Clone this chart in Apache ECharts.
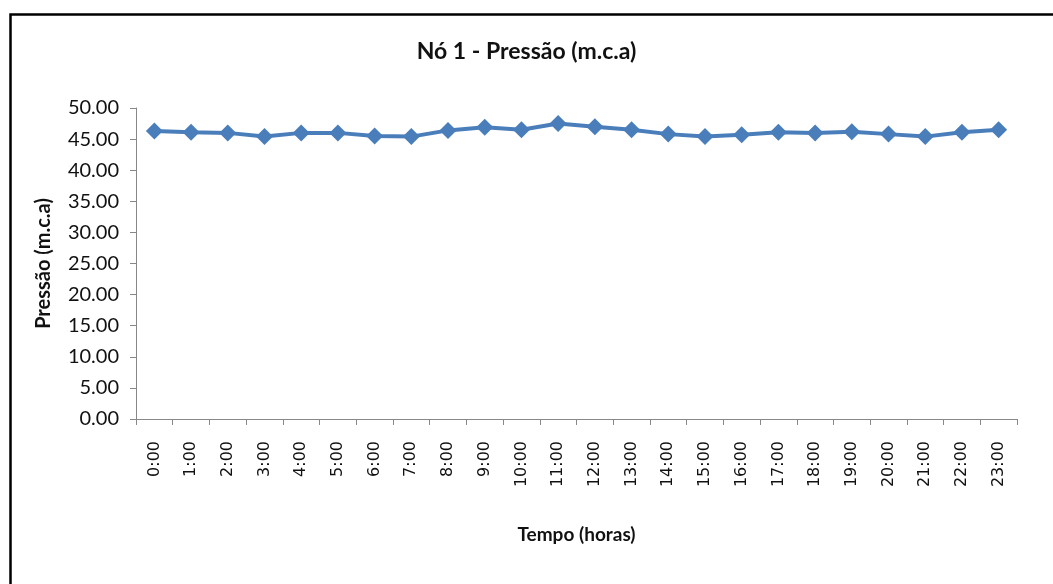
<!DOCTYPE html>
<html>
<head>
<meta charset="utf-8">
<script src="https://cdn.jsdelivr.net/npm/echarts@6/dist/echarts.min.js"></script>
<style>html,body{margin:0;padding:0;background:#fff;}#c{width:1053px;height:584px;}</style>
</head>
<body>
<div id="c"></div>
<script>
const categories = ['0:00','1:00','2:00','3:00','4:00','5:00','6:00','7:00','8:00','9:00','10:00','11:00','12:00','13:00','14:00','15:00','16:00','17:00','18:00','19:00','20:00','21:00','22:00','23:00'];
const pressure = [46.3, 46.1, 46.0, 45.4, 46.0, 46.0, 45.5, 45.4, 46.4, 46.9, 46.5, 47.5, 47.0, 46.5, 45.8, 45.4, 45.7, 46.1, 46.0, 46.2, 45.8, 45.4, 46.1, 46.5];
const titleText = 'Nó 1 - Pressão (m.c.a)';
const yName = 'Pressão (m.c.a)';
const xName = 'Tempo (horas)';

const chart = echarts.init(document.getElementById('c'), null, {renderer: 'canvas'});
const font = 'Lato, "Open Sans", sans-serif';
chart.setOption({
  backgroundColor: '#fff',
  animation: false,
  graphic: [{
    type: 'rect', left: 8, top: 12,
    shape: {x: 0, y: 0, width: 1060, height: 600},
    style: {fill: 'none', stroke: '#000', lineWidth: 2.5},
    silent: true
  }],
  title: {
    text: titleText, left: 'center', top: 35,
    textStyle: {fontFamily: font, fontSize: 23, fontWeight: 'bold', color: '#111'}
  },
  grid: {left: 136, right: 36, top: 108, bottom: 165},
  xAxis: {
    type: 'category', data: categories, boundaryGap: true,
    name: xName, nameLocation: 'middle', nameGap: 106,
    nameTextStyle: {fontFamily: font, fontSize: 19, fontWeight: 'bold', color: '#111'},
    axisLine: {lineStyle: {color: '#888', width: 1}},
    axisTick: {show: true, interval: 0, length: 6, lineStyle: {color: '#888'}},
    axisLabel: {rotate: 90, interval: 0, margin: 22, fontFamily: 'DejaVu Sans, sans-serif', fontSize: 16, color: '#111'}
  },
  yAxis: {
    type: 'value', min: 0, max: 50, interval: 5,
    name: yName, nameLocation: 'middle', nameGap: 82, nameRotate: 90,
    nameTextStyle: {fontFamily: font, fontSize: 20, fontWeight: 'bold', color: '#111'},
    axisLine: {show: true, lineStyle: {color: '#888', width: 1}},
    axisTick: {show: true, length: 6, lineStyle: {color: '#888'}},
    splitLine: {show: false},
    axisLabel: {fontFamily: font, fontSize: 20, color: '#111', margin: 17, formatter: v => v.toFixed(2)}
  },
  series: [{
    type: 'line', data: pressure,
    symbol: 'diamond', symbolSize: 17,
    lineStyle: {color: '#4a7ebb', width: 4},
    itemStyle: {color: '#4a7ebb'}
  }]
});
</script>
</body>
</html>
